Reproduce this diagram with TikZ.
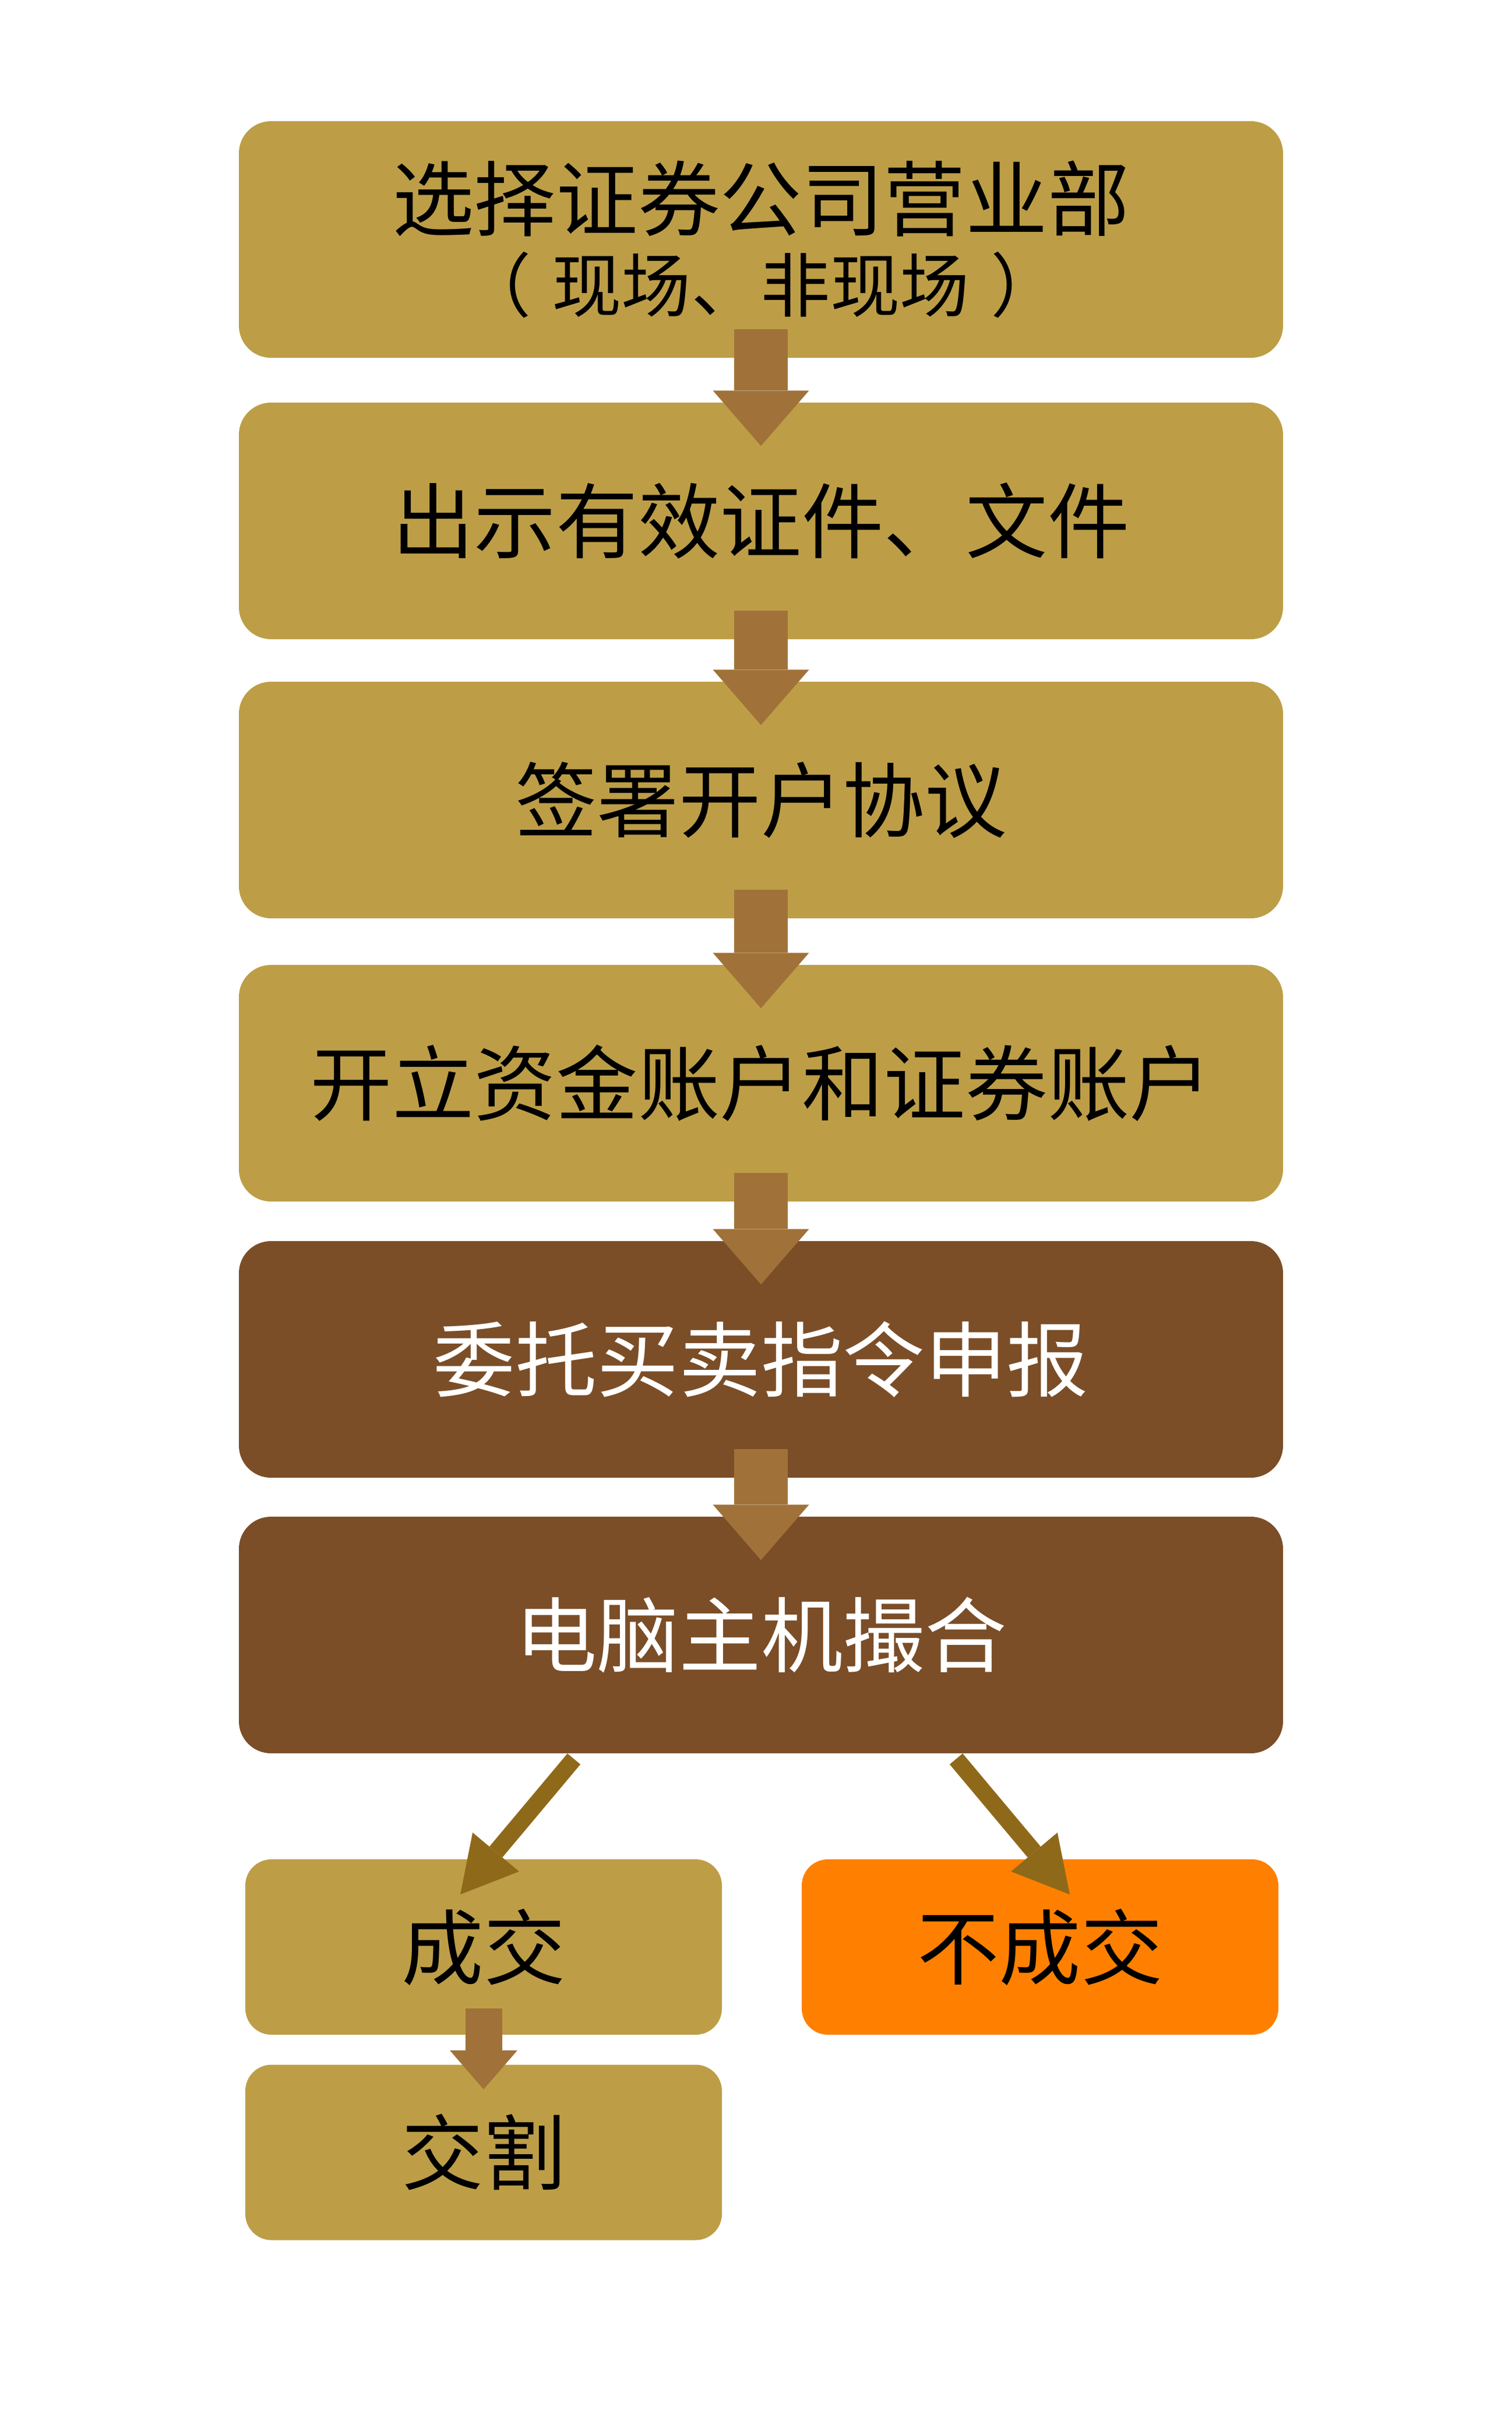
\documentclass[tikz,border=0pt]{standalone}
\usepackage{fontspec}
\setmainfont{Noto Sans CJK SC}
\usetikzlibrary{
    arrows.meta,
    positioning
}
\definecolor{stepgold}{HTML}{BD9E47}
\definecolor{stepbrown}{HTML}{7B4E28}
\definecolor{failorange}{HTML}{FF8000}
\definecolor{flowcolor}{HTML}{A07239}
\definecolor{splitcolor}{HTML}{8F691A}

\begin{document}
\begin{tikzpicture}[
    bigbox/.style={rectangle, rounded corners=0.55cm, minimum width=17.92cm,
        minimum height=4.06cm, inner sep=0pt, align=center,
        font=\fontsize{40}{40}\selectfont},
    goldbox/.style={bigbox, fill=stepgold, text=black},
    brownbox/.style={bigbox, fill=stepbrown, text=white},
    smallbox/.style={rectangle, rounded corners=0.45cm, minimum width=8.18cm,
        minimum height=3.01cm, inner sep=0pt, text=black,
        font=\fontsize{40}{40}\selectfont},
    flow/.style={line width=0.92cm, draw=flowcolor,
        -{Triangle[width=1.65cm,length=0.95cm,line width=0pt,fill=flowcolor]}},
    smallflow/.style={line width=0.63cm, draw=flowcolor,
        -{Triangle[width=1.16cm,length=0.67cm,line width=0pt,fill=flowcolor]}},
    split/.style={line width=0.29cm, draw=splitcolor,
        -{Triangle[width=1.04cm,length=0.95cm,line width=0pt,fill=splitcolor]}}
]
    \useasboundingbox (0,0) rectangle (25.94,-41.67);

    % main column
    \node[goldbox] (choose) at (13.06,-4.11)
        {选择证券公司营业部\\{\fontsize{34}{40}\selectfont
        （\hspace{0.3em}现场、非现场\hspace{0.3em}）}};
    \node[goldbox] (present) at (13.06,-8.94) {出示有效证件、文件};
    \node[goldbox] (sign) at (13.06,-13.73) {签署开户协议};
    \node[goldbox] (open) at (13.06,-18.59) {开立资金账户和证券账户};
    \node[brownbox] (order) at (13.06,-23.33) {委托买卖指令申报};
    \node[brownbox] (match) at (13.06,-28.06) {电脑主机撮合};

    % outcomes
    \node[smallbox, fill=stepgold] (deal) at (8.30,-33.415) {成交};
    \node[smallbox, fill=failorange] (nodeal) at (17.85,-33.415) {不成交};
    \node[smallbox, fill=stepgold] (settle) at (8.30,-36.94) {交割};

    \foreach \a/\b in {choose/present, present/sign, sign/open, open/order, order/match}
        \draw[flow] ([yshift=5mm]\a.south) -- ([yshift=-7.5mm]\b.north);
    \draw[smallflow] ([yshift=4.6mm]deal.south) -- ([yshift=-4.3mm]settle.north);
    \draw[split] ([xshift=-3.21cm,yshift=-0.09cm]match.south)
        -- ([xshift=-0.4cm,yshift=-0.61cm]deal.north);
    \draw[split] ([xshift=3.35cm,yshift=-0.09cm]match.south)
        -- ([xshift=0.51cm,yshift=-0.61cm]nodeal.north);
\end{tikzpicture}
\end{document}
